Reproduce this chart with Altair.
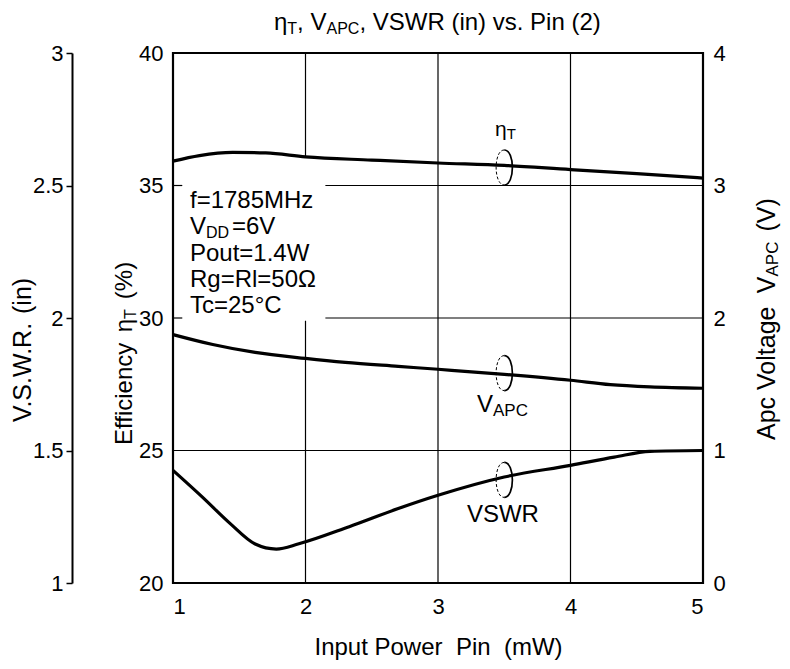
import altair as alt
import pandas as pd

FONT = "Liberation Sans"

# ---------------- data ----------------
pin_eff = [1.0, 1.2, 1.45, 1.7, 2.0, 2.5, 3.0, 3.5, 4.0, 4.5, 5.0]
eff_pct = [35.92, 36.13, 36.25, 36.23, 36.08, 35.96, 35.85, 35.76, 35.6, 35.45, 35.28]

pin_vapc = [1.0, 1.3, 1.62, 2.0, 2.3, 2.7, 3.0, 3.5, 4.0, 4.3, 4.6, 5.0]
vapc_v = [1.875, 1.80, 1.74, 1.695, 1.665, 1.635, 1.613, 1.575, 1.53, 1.497, 1.48, 1.47]

pin_vswr = [1.0, 1.22, 1.43, 1.62, 1.78, 1.95, 2.33, 2.7, 3.0, 3.5, 4.0, 4.33, 4.6, 5.0]
vswr_in = [1.425, 1.325, 1.225, 1.147, 1.128, 1.148, 1.2125, 1.281, 1.331, 1.40, 1.444, 1.475, 1.497, 1.50]

x_ticks = [1, 2, 3, 4, 5]
eff_ticks = [20, 25, 30, 35, 40]
vapc_ticks = [0, 1, 2, 3, 4]
vswr_ticks = [1, 1.5, 2, 2.5, 3]

# partial grid lines (in Pin / efficiency units)
grid_v_pin = [2, 2, 3, 4]
grid_v_from = [36.05, 20, 20, 20]
grid_v_to = [40, 29.9, 40, 40]
grid_h_eff = [35, 30, 25, 35, 30]
grid_h_from = [2.15, 2.15, 1, 1, 1]
grid_h_to = [5, 5, 5, 1.07, 1.07]

# condition block
cond_lines = ["f=1785MHz", "Pout=1.4W", "Rg=Rl=50\u03a9", "Tc=25\u00b0C"]
cond_eff = [34.15, 32.15, 31.17, 30.19]
cond_pin = 1.128
vdd_eff = 33.17

# curve label loops (Pin, efficiency-units position)
loop_pin = [3.5, 3.5, 3.5]
loop_eff = [35.68, 27.92, 23.89]

# ---------------- scales / axes ----------------
xs = alt.Scale(domain=[1, 5], nice=False, zero=False)
eff_scale = alt.Scale(domain=[20, 40], nice=False, zero=False)
vapc_scale = alt.Scale(domain=[0, 4], nice=False, zero=False)
vswr_scale = alt.Scale(domain=[1, 3], nice=False, zero=False)

x_axis = alt.Axis(values=x_ticks, ticks=False, tickSize=0, domain=False, grid=False,
                  labelPadding=13, labelFontSize=22, title="Input Power\u00a0 Pin\u00a0 (mW)",
                  titleFontSize=24, titleFontWeight="normal", titlePadding=18)


def X(field):
    return alt.X(field, scale=xs, axis=x_axis)


df_eff = pd.DataFrame({"pin": pin_eff, "v": eff_pct})
df_vapc = pd.DataFrame({"pin": pin_vapc, "v": vapc_v})
df_vswr = pd.DataFrame({"pin": pin_vswr, "v": vswr_in})

eff_line = alt.Chart(df_eff).mark_line(color="black", strokeWidth=3.2, interpolate="monotone").encode(
    x=X("pin:Q"),
    y=alt.Y("v:Q", scale=eff_scale,
            axis=alt.Axis(orient="left", values=eff_ticks, ticks=False, tickSize=0, domain=False,
                          grid=False, labelPadding=10, labelFontSize=22, title=None)),
)

vapc_line = alt.Chart(df_vapc).mark_line(color="black", strokeWidth=3.2, interpolate="monotone").encode(
    x=X("pin:Q"),
    y=alt.Y("v:Q", scale=vapc_scale,
            axis=alt.Axis(orient="right", values=vapc_ticks, ticks=False, tickSize=0, domain=False,
                          grid=False, labelPadding=10, labelFontSize=22, title=None)),
)

vswr_line = alt.Chart(df_vswr).mark_line(color="black", strokeWidth=3.2, interpolate="monotone").encode(
    x=X("pin:Q"),
    y=alt.Y("v:Q", scale=vswr_scale,
            axis=alt.Axis(orient="left", offset=101, values=vswr_ticks, format="~g", ticks=True,
                          tickSize=6, tickWidth=1.5, tickColor="black", domain=True,
                          domainColor="black", domainWidth=2, grid=False, labelPadding=3,
                          labelFontSize=22, title=None)),
)

df_gv = pd.DataFrame({"pin": grid_v_pin, "lo": grid_v_from, "hi": grid_v_to})
grid_v = alt.Chart(df_gv).mark_rule(color="black", strokeWidth=1.2).encode(
    x=X("pin:Q"),
    y=alt.Y("lo:Q", scale=eff_scale, axis=None),
    y2="hi:Q",
)
df_gh = pd.DataFrame({"eff": grid_h_eff, "pin": grid_h_from, "b": grid_h_to})
grid_h = alt.Chart(df_gh).mark_rule(color="black", strokeWidth=1.2).encode(
    y=alt.Y("eff:Q", scale=eff_scale, axis=None),
    x=X("pin:Q"),
    x2="b:Q",
)


def label(df, size, dx=0, dy=0, align="left"):
    return alt.Chart(df).mark_text(font=FONT, fontSize=size, color="black", align=align,
                                   baseline="alphabetic", dx=dx, dy=dy).encode(
        x=X("pin:Q"),
        y=alt.Y("eff:Q", scale=eff_scale, axis=None),
        text="t:N",
    )


cond_txt = label(pd.DataFrame({"pin": [cond_pin] * 4, "eff": cond_eff, "t": cond_lines}), 24)
vdd_v = label(pd.DataFrame({"pin": [cond_pin], "eff": [vdd_eff], "t": ["V"]}), 24)
vdd_sub = label(pd.DataFrame({"pin": [cond_pin], "eff": [vdd_eff], "t": ["DD"]}), 16, dx=16, dy=4)
vdd_rest = label(pd.DataFrame({"pin": [cond_pin], "eff": [vdd_eff], "t": ["=6V"]}), 24, dx=42)

eta_main = label(pd.DataFrame({"pin": [3.43], "eff": [36.87], "t": ["\u03b7"]}), 21)
eta_sub = label(pd.DataFrame({"pin": [3.43], "eff": [36.87], "t": ["T"]}), 15, dx=11.7, dy=3)
vapc_main = label(pd.DataFrame({"pin": [3.294], "eff": [26.45], "t": ["V"]}), 24)
vapc_sub = label(pd.DataFrame({"pin": [3.294], "eff": [26.45], "t": ["APC"]}), 17, dx=16, dy=4)
vswr_lab = label(pd.DataFrame({"pin": [3.49], "eff": [22.31], "t": ["VSWR"]}), 24, align="center")

df_loop = pd.DataFrame({"pin": loop_pin, "eff": loop_eff})
loop_right = alt.Chart(df_loop).mark_point(
    shape="M0,-1 C0.62,-1 0.62,1 0,1", size=1225, filled=False, stroke="black", strokeWidth=1.7,
    opacity=1).encode(
    x=X("pin:Q"),
    y=alt.Y("eff:Q", scale=eff_scale, axis=None),
)
loop_left = alt.Chart(df_loop).mark_point(
    shape="M0,-1 C-0.62,-1 -0.62,1 0,1", size=1225, filled=False, stroke="black", strokeWidth=1,
    strokeDash=[3, 2], opacity=1).encode(
    x=X("pin:Q"),
    y=alt.Y("eff:Q", scale=eff_scale, axis=None),
)


# ---------------- titles (with subscripts) ----------------
def free_text(t, px, py, size, angle=0, align="left"):
    kw = dict(font=FONT, fontSize=size, color="black", align=align, baseline="alphabetic")
    if angle:
        kw["angle"] = angle
    return alt.Chart(pd.DataFrame({"t": [t]})).mark_text(**kw).encode(
        x=alt.value(px), y=alt.value(py), text="t:N")


title_parts = [
    free_text("\u03b7", 101, -23, 24),
    free_text("T", 114.3, -19, 16),
    free_text(", V", 124.1, -23, 24),
    free_text("APC", 153.5, -19, 16),
    free_text(", VSWR (in) vs. Pin (2)", 186.4, -23, 24),
]

eff_title = [
    free_text("Efficiency", -41.5, 392, 24, angle=270),
    free_text("\u03b7", -41.5, 279.3, 24, angle=270),
    free_text("T", -37.5, 266, 16, angle=270),
    free_text("(%)", -41.5, 246.2, 24, angle=270),
]

vswr_title = [
    free_text("V.S.W.R.", -142.5, 369, 25, angle=270),
    free_text("(in)", -142.5, 261, 25, angle=270),
]

apc_title = [
    free_text("Apc Voltage", 602, 387, 25, angle=270),
    free_text("V", 602, 240.2, 25, angle=270),
    free_text("APC", 605, 223.5, 17, angle=270),
    free_text("(V)", 602, 178.5, 25, angle=270),
]

layers = [grid_v, grid_h, eff_line, vapc_line, vswr_line, loop_left, loop_right,
          cond_txt, vdd_v, vdd_sub, vdd_rest, eta_main, eta_sub, vapc_main, vapc_sub, vswr_lab]
layers += title_parts + eff_title + vswr_title + apc_title

chart = alt.layer(*layers).resolve_scale(y="independent").properties(
    width=530, height=530,
    padding={"left": 165, "top": 45, "right": 79, "bottom": 78},
    autosize=alt.AutoSizeParams(type="none"),
).configure_view(stroke="black", strokeWidth=2.2).configure_axis(
    labelFont=FONT, titleFont=FONT, labelColor="black", titleColor="black"
)

chart.save("out.html", embed_options={"renderer": "svg", "actions": False})
